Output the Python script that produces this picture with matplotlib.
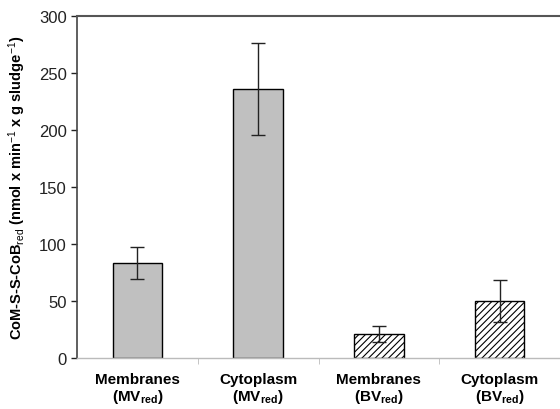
import matplotlib
matplotlib.use("Agg")
import matplotlib.pyplot as plt
import numpy as np

plt.rcParams['font.family'] = ['Liberation Sans', 'DejaVu Sans']
plt.rcParams['mathtext.fontset'] = 'custom'
plt.rcParams['mathtext.rm'] = 'Liberation Sans'
plt.rcParams['mathtext.bf'] = 'Liberation Sans:bold'
plt.rcParams['mathtext.it'] = 'Liberation Sans:italic'
plt.rcParams['hatch.linewidth'] = 0.8

categories = ["Membranes\n(MV$_{\\mathbf{red}}$)", "Cytoplasm\n(MV$_{\\mathbf{red}}$)",
              "Membranes\n(BV$_{\\mathbf{red}}$)", "Cytoplasm\n(BV$_{\\mathbf{red}}$)"]
values = [83, 236, 21, 50]
errors = [14, 40, 7, 18]
hatches = ["", "", "/////", "/////"]
fills = ["#c0c0c0", "#c0c0c0", "white", "white"]

fig = plt.figure(figsize=(5.6, 4.1), dpi=100)
ax = fig.add_axes([0.1375, 0.1244, 0.8625, 0.8341])

x = np.arange(len(values))
for xi, v, e, h, fc in zip(x, values, errors, hatches, fills):
    ax.bar(xi, v, width=0.41, color=fc, edgecolor="black", linewidth=1.0, hatch=h, zorder=2)
    ax.errorbar(xi, v, yerr=e, fmt="none", ecolor="#222222", elinewidth=1.0, capsize=5, capthick=1.0, zorder=3)

ax.set_xlim(-0.5, 3.5)
ax.set_ylim(0, 300)
ax.set_yticks(range(0, 301, 50))
ax.tick_params(axis='y', labelsize=12, length=4, direction='out', width=1, colors='#222222')
ax.set_xticks(x)
ax.set_xticklabels(categories, fontsize=11, fontweight='bold', linespacing=1.1)
ax.tick_params(axis='x', length=0, pad=10)
ax.set_xticks([0.5, 1.5, 2.5], minor=True)
ax.tick_params(axis='x', which='minor', length=4, color='#bbbbbb')

ax.spines['right'].set_visible(False)
ax.spines['top'].set_color('#555555')
ax.spines['top'].set_linewidth(1.5)
ax.spines['left'].set_color('#444444')
ax.spines['left'].set_linewidth(1.2)
ax.spines['bottom'].set_color('#bbbbbb')
ax.spines['bottom'].set_linewidth(1.0)

ax.set_ylabel("CoM-S-S-CoB$_{\\mathrm{red}}$ (nmol x min$^{\\mathrm{-1}}$ x g sludge$^{\\mathrm{-1}}$)",
              fontsize=10.5, fontweight='bold', labelpad=8)

fig.savefig("out.png", dpi=100)
